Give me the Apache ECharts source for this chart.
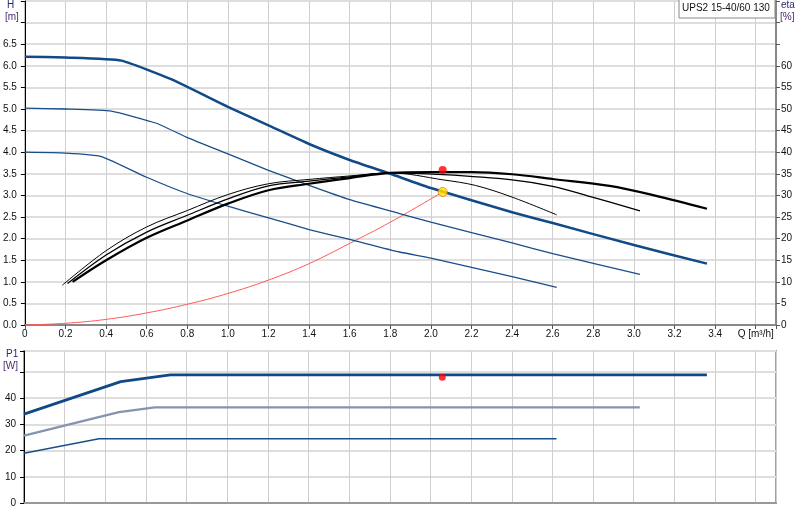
<!DOCTYPE html>
<html>
<head>
<meta charset="UTF-8">
<title>UPS2 15-40/60 130</title>
<script src="https://cdn.jsdelivr.net/npm/echarts@6/dist/echarts.min.js"></script>
<style>
  html, body { margin: 0; padding: 0; background: #fff; }
  #chart { width: 800px; height: 520px; }
</style>
</head>
<body>
<div id="chart"></div>
<script>
// Q-H curves (three speeds)
var qHigh = [0, 0.2, 0.475, 0.72, 1.0, 1.2, 1.4, 1.6, 1.8, 2.0, 2.4, 2.6, 3.0, 3.36];
var hHigh = [6.21, 6.19, 6.12, 5.69, 5.05, 4.62, 4.19, 3.82, 3.50, 3.17, 2.61, 2.36, 1.85, 1.42];
var qMid = [0, 0.2, 0.426, 0.648, 0.795, 1.0, 1.2, 1.4, 1.6, 1.845, 2.0, 2.4, 2.6, 3.03];
var hMid = [5.02, 5.0, 4.95, 4.67, 4.35, 3.96, 3.58, 3.23, 2.90, 2.58, 2.38, 1.90, 1.65, 1.17];
var qLow = [0, 0.2, 0.377, 0.6, 0.795, 1.0, 1.2, 1.4, 1.6, 1.845, 2.0, 2.4, 2.62];
var hLow = [4.0, 3.98, 3.90, 3.42, 3.05, 2.75, 2.48, 2.21, 1.98, 1.69, 1.55, 1.12, 0.87];

// efficiency curves [%]
var qEtaHigh = [0.235, 0.4, 0.6, 0.8, 1.0, 1.2, 1.4, 1.6, 1.8, 2.0, 2.2, 2.4, 2.6, 2.88, 3.1, 3.36];
var etaHigh = [10.0, 15.0, 20.2, 24.2, 28.1, 31.2, 32.7, 34.0, 35.2, 35.4, 35.4, 34.9, 33.8, 32.2, 30.0, 26.9];
var qEtaMid = [0.21, 0.4, 0.6, 0.8, 1.0, 1.2, 1.4, 1.6, 1.8, 2.06, 2.4, 2.6, 2.795, 3.03];
var etaMid = [9.6, 16.2, 21.5, 25.4, 29.2, 32.2, 33.3, 34.3, 35.2, 34.8, 33.6, 32.1, 29.6, 26.4];
var qEtaLow = [0.184, 0.4, 0.6, 0.8, 1.0, 1.2, 1.4, 1.6, 1.8, 2.06, 2.22, 2.4, 2.62];
var etaLow = [9.2, 17.2, 22.7, 26.5, 30.2, 32.7, 33.7, 34.5, 35.2, 33.6, 32.3, 29.6, 25.5];

// system curve
var qSys = [0, 0.2, 0.4, 0.6, 0.8, 1.0, 1.2, 1.4, 1.6, 1.8, 2.058];
var hSys = [0, 0.04, 0.13, 0.28, 0.48, 0.73, 1.04, 1.42, 1.89, 2.38, 3.08];

// duty point
var dutyQ = 2.058;
var dutyH = 3.08;
var dutyEta = 35.9;
var dutyP = 48.0;

// power P1 [W]
var qPHigh = [0, 0.476, 0.72, 3.36];
var pHigh = [33.9, 46.3, 48.9, 48.9];
var qPMid = [0, 0.467, 0.644, 3.03];
var pMid = [25.7, 34.7, 36.5, 36.5];
var qPLow = [0, 0.369, 2.62];
var pLow = [19.0, 24.5, 24.5];

function pairs(xs, ys) {
  var out = [];
  for (var i = 0; i < xs.length; i++) out.push([xs[i], ys[i]]);
  return out;
}

var font = 'Liberation Sans, Arial, sans-serif';
var blue = '#1a4e8a';

var myChart = echarts.init(document.getElementById('chart'));

var option = {
  animation: false,
  textStyle: { fontFamily: font },
  grid: [
    { left: 24, right: 24, top: 1, height: 324, show: true, borderColor: '#999', borderWidth: 1 },
    { left: 24, right: 24, top: 351, height: 152, show: true, borderColor: '#a0a0a0', borderWidth: 2 }
  ],
  xAxis: [{
    gridIndex: 0, type: 'value', min: 0, max: 3.7, interval: 0.2,
    axisLine: { lineStyle: { color: '#888', width: 2 } },
    axisTick: { show: true, length: 4, lineStyle: { color: '#555' } },
    axisLabel: {
      color: '#111', fontSize: 10, margin: 4, fontFamily: font,
      formatter: function (v) {
        if (v > 3.65) return '';
        if (Math.abs(v - 3.6) < 0.01) return 'Q [m³/h]';
        return v === 0 ? '0' : v.toFixed(1);
      }
    },
    splitLine: { show: true, lineStyle: { color: '#cfcfcf', width: 1 } }
  }, {
    gridIndex: 1, type: 'value', min: 0, max: 3.7, interval: 0.2,
    axisLine: { lineStyle: { color: '#999', width: 2 } },
    axisTick: { show: false },
    axisLabel: { show: false },
    splitLine: { show: true, lineStyle: { color: '#cfcfcf', width: 1 } }
  }],
  yAxis: [{
    gridIndex: 0, type: 'value', min: 0, max: 7.5, interval: 0.5,
    axisLine: { show: true, lineStyle: { color: '#000', width: 1 } },
    axisTick: { show: true, length: 4, lineStyle: { color: '#000' } },
    axisLabel: {
      color: '#111', fontSize: 10, margin: 8, fontFamily: font,
      formatter: function (v) { return v > 6.75 ? '' : v.toFixed(1); }
    },
    splitLine: { show: true, lineStyle: { color: '#dedede', width: 2 } }
  }, {
    gridIndex: 0, type: 'value', position: 'right', min: 0, max: 75, interval: 5,
    axisLine: { show: true, lineStyle: { color: '#888', width: 2 } },
    axisTick: { show: true, length: 4, lineStyle: { color: '#555' } },
    axisLabel: {
      color: '#111', fontSize: 10, margin: 5, fontFamily: font,
      formatter: function (v) { return v > 62 ? '' : String(v); }
    },
    splitLine: { show: false }
  }, {
    gridIndex: 1, type: 'value', min: 0, max: 58, interval: 10,
    axisLine: { show: true, lineStyle: { color: '#000', width: 1 } },
    axisTick: { show: true, length: 4, lineStyle: { color: '#000' } },
    axisLabel: {
      color: '#111', fontSize: 10, margin: 8, fontFamily: font,
      formatter: function (v) { return v > 45 ? '' : String(v); }
    },
    splitLine: { show: true, lineStyle: { color: '#dedede', width: 2 } }
  }],
  series: [
    // system curve
    { type: 'line', xAxisIndex: 0, yAxisIndex: 0, data: pairs(qSys, hSys), showSymbol: false,
      smooth: 0.4, lineStyle: { color: '#ff5a5a', width: 1 }, z: 3 },
    // Q-H
    { type: 'line', xAxisIndex: 0, yAxisIndex: 0, data: pairs(qLow, hLow), showSymbol: false,
      smooth: 0.15, lineStyle: { color: blue, width: 1.3 } },
    { type: 'line', xAxisIndex: 0, yAxisIndex: 0, data: pairs(qMid, hMid), showSymbol: false,
      smooth: 0.15, lineStyle: { color: blue, width: 1.3 } },
    { type: 'line', xAxisIndex: 0, yAxisIndex: 0, data: pairs(qHigh, hHigh), showSymbol: false,
      smooth: 0.15, lineStyle: { color: '#114a87', width: 2.5 } },
    // efficiency
    { type: 'line', xAxisIndex: 0, yAxisIndex: 1, data: pairs(qEtaLow, etaLow), showSymbol: false,
      smooth: 0.35, lineStyle: { color: '#000', width: 1 } },
    { type: 'line', xAxisIndex: 0, yAxisIndex: 1, data: pairs(qEtaMid, etaMid), showSymbol: false,
      smooth: 0.35, lineStyle: { color: '#000', width: 1.3 } },
    { type: 'line', xAxisIndex: 0, yAxisIndex: 1, data: pairs(qEtaHigh, etaHigh), showSymbol: false,
      smooth: 0.35, lineStyle: { color: '#000', width: 2.2 } },
    // duty point markers
    { type: 'scatter', xAxisIndex: 0, yAxisIndex: 1, data: [[dutyQ, dutyEta]], symbolSize: 8,
      itemStyle: { color: '#ff0000' }, z: 5 },
    { type: 'scatter', xAxisIndex: 0, yAxisIndex: 0, data: [[dutyQ, dutyH]], symbolSize: 9,
      itemStyle: { color: '#ffe600', borderColor: '#ff7a00', borderWidth: 1 }, z: 5 },
    // power
    { type: 'line', xAxisIndex: 1, yAxisIndex: 2, data: pairs(qPLow, pLow), showSymbol: false,
      lineStyle: { color: blue, width: 1.5 } },
    { type: 'line', xAxisIndex: 1, yAxisIndex: 2, data: pairs(qPMid, pMid), showSymbol: false,
      lineStyle: { color: '#8494ae', width: 2.2 } },
    { type: 'line', xAxisIndex: 1, yAxisIndex: 2, data: pairs(qPHigh, pHigh), showSymbol: false,
      lineStyle: { color: '#0f4a86', width: 2.8 } },
    { type: 'scatter', xAxisIndex: 1, yAxisIndex: 2, data: [[dutyQ, dutyP]], symbolSize: 7,
      itemStyle: { color: '#ff0000' }, z: 5 }
  ],
  graphic: [
    { type: 'text', left: 7, top: 0, style: { text: 'H', fill: '#2b2a6e', font: '10px ' + font } },
    { type: 'text', left: 5, top: 12, style: { text: '[m]', fill: '#4a2a6e', font: '10px ' + font } },
    { type: 'text', left: 781, top: 0, style: { text: 'eta', fill: '#2b2a6e', font: '10px ' + font } },
    { type: 'text', left: 780, top: 12, style: { text: '[%]', fill: '#4a2a6e', font: '10px ' + font } },
    { type: 'text', left: 6, top: 349, style: { text: 'P1', fill: '#2b2a6e', font: '10px ' + font } },
    { type: 'text', left: 3, top: 361, style: { text: '[W]', fill: '#4a2a6e', font: '10px ' + font } },
    { type: 'rect', shape: { x: 679, y: -1, width: 96, height: 19 },
      style: { fill: '#fff', stroke: '#888', lineWidth: 1 }, z: 10 },
    { type: 'text', x: 682, y: 3, z: 11,
      style: { text: 'UPS2 15-40/60 130', fill: '#111', font: '10px ' + font } }
  ]
};

myChart.setOption(option);
</script>
</body>
</html>
